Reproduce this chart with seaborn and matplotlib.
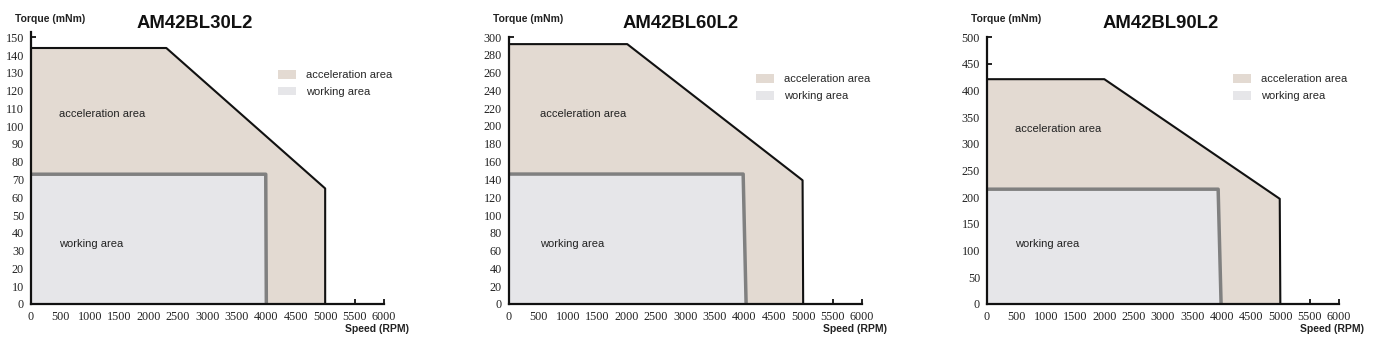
import matplotlib
matplotlib.use("Agg")
import matplotlib.pyplot as plt
import seaborn as sns
import pandas as pd
from matplotlib.patches import Patch

# ---- data ----
titles = ["AM42BL30L2", "AM42BL60L2", "AM42BL90L2"]
y_max = [153, 300, 500]
y_step = [10, 20, 50]
x_ticks = [0, 500, 1000, 1500, 2000, 2500, 3000, 3500, 4000, 4500, 5000, 5500, 6000]

# acceleration area boundary (speed, torque)
acc_speed_1 = [0, 2300, 5000, 5000]
acc_torque_1 = [144, 144, 65, 0]
acc_speed_2 = [0, 2010, 4990, 5000]
acc_torque_2 = [292, 292, 139, 0]
acc_speed_3 = [0, 2000, 4990, 5000]
acc_torque_3 = [421, 421, 197, 0]

# working area boundary
work_speed_1 = [0, 3990, 4000]
work_torque_1 = [73, 73, 0]
work_speed_2 = [0, 3980, 4030]
work_torque_2 = [146, 146, 0]
work_speed_3 = [0, 3940, 3990]
work_torque_3 = [215, 215, 0]

# inside-label positions (speed, torque)
acc_label_pos = [(480, 107), (530, 214), (480, 328)]
work_label_pos = [(480, 34), (530, 67), (480, 112)]

acc_sets = [(acc_speed_1, acc_torque_1), (acc_speed_2, acc_torque_2), (acc_speed_3, acc_torque_3)]
work_sets = [(work_speed_1, work_torque_1), (work_speed_2, work_torque_2), (work_speed_3, work_torque_3)]

ACC_COLOR = "#e3dad2"
WORK_COLOR = "#e6e6e9"

sns.set_style("ticks")
plt.rcParams['font.family'] = ['Liberation Sans', 'DejaVu Sans']

fig = plt.figure(figsize=(13.75, 3.45), dpi=100)
W, H = 1375, 345

axes_px = [(31, 384, 32), (509, 862, 37), (987, 1339, 37)]
title_cx = [0.463, 0.487, 0.494]

for i in range(3):
    l, r, t = axes_px[i]
    b = 304
    ax = fig.add_axes([l / W, 1 - b / H, (r - l) / W, (b - t) / H])
    xs, ys = acc_sets[i]
    wx, wy = work_sets[i]
    # fills
    ax.fill([0] + xs + [0], [0] + ys + [0], color=ACC_COLOR, lw=0, zorder=1)
    ax.fill([0] + wx + [0], [0] + wy + [0], color=WORK_COLOR, lw=0, zorder=2)
    # outlines
    sns.lineplot(data=pd.DataFrame({"s": xs, "t": ys}), x="s", y="t", sort=False,
                 estimator=None, color="#111111", lw=1.5, ax=ax, zorder=4)
    sns.lineplot(data=pd.DataFrame({"s": wx, "t": wy}), x="s", y="t", sort=False,
                 estimator=None, color="#808080", lw=2.5, ax=ax, zorder=3)

    ax.set_xlim(0, 6000)
    ax.set_ylim(0, y_max[i])
    ax.set_xticks(x_ticks)
    yt = list(range(0, (y_max[i] // y_step[i]) * y_step[i] + 1, y_step[i]))
    ax.set_yticks(yt)
    ax.set_xlabel("")
    ax.set_ylabel("")
    for sp in ["top", "right"]:
        ax.spines[sp].set_visible(False)
    for sp in ["left", "bottom"]:
        ax.spines[sp].set_linewidth(1.6)
        ax.spines[sp].set_color("#111111")
        ax.spines[sp].set_zorder(6)
    ax.tick_params(direction="in", length=3.5, width=1.3, color="#111111",
                   labelsize=8.7, pad=5)
    for lab in ax.get_xticklabels() + ax.get_yticklabels():
        lab.set_family("Liberation Serif")
        lab.set_color("#222222")
    ax.set_facecolor("white")

    ax.text(acc_label_pos[i][0], acc_label_pos[i][1], "acceleration area",
            fontsize=8, va="center", ha="left", color="#222222", zorder=5)
    ax.text(work_label_pos[i][0], work_label_pos[i][1], "working area",
            fontsize=8, va="center", ha="left", color="#222222", zorder=5)

    handles = [Patch(facecolor=ACC_COLOR, edgecolor="none", label="acceleration area"),
               Patch(facecolor=WORK_COLOR, edgecolor="none", label="working area")]
    ax.legend(handles=handles, loc="upper left", bbox_to_anchor=(0.70, 0.86),
              frameon=False, fontsize=8, handlelength=1.6, handleheight=0.8,
              handletextpad=0.9, labelspacing=0.6, borderpad=0, borderaxespad=0)

    fig.text((l + title_cx[i] * (r - l)) / W, 1 - 23 / H, titles[i],
             fontsize=13.3, fontweight="bold", ha="center", va="center", color="#111111")
    fig.text((l - 16) / W, 1 - 19 / H, "Torque (mNm)", fontsize=7.5,
             fontweight="bold", ha="left", va="center", color="#222222")
    fig.text((r + 25) / W, 1 - 329 / H, "Speed (RPM)", fontsize=7.5,
             fontweight="bold", ha="right", va="center", color="#222222")

fig.savefig("out.png", dpi=100, facecolor="white")
